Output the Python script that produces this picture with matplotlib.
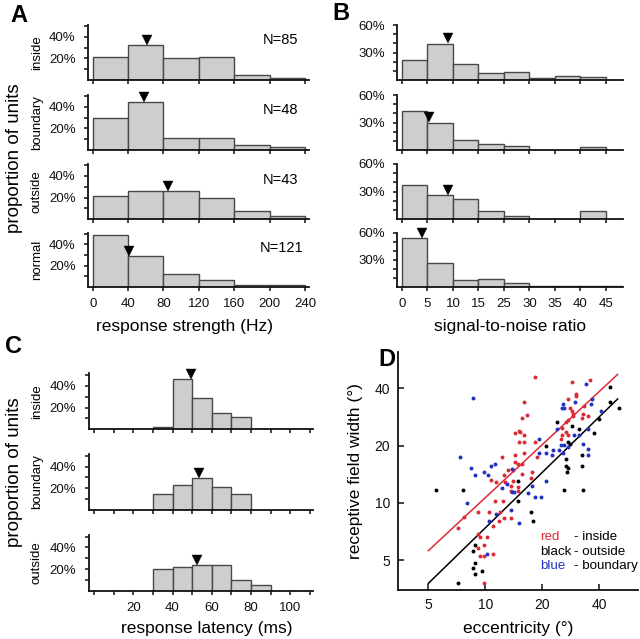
import numpy as np
import matplotlib
matplotlib.use('Agg')
import matplotlib.pyplot as plt
from matplotlib import transforms

plt.rcParams['font.family'] = ['Liberation Sans', 'DejaVu Sans']

# ---------------- data ----------------
groups_A = ['inside', 'boundary', 'outside', 'normal']
N_A = ['N=85', 'N=48', 'N=43', 'N=121']
A_edges = [0, 40, 80, 120, 160, 200, 240]
A_inside = [21.5, 32, 20, 21.5, 5, 1.5]
A_boundary = [30, 44.5, 11.3, 11.3, 5, 3]
A_outside = [21.8, 26, 26, 19.4, 8, 3.4]
A_normal = [49, 29, 12, 6, 1.5, 1.5]
A_means = [61.6, 57.6, 84.8, 41.1]
A_xticks = [0, 40, 80, 120, 160, 200, 240]

B_edges = [0, 5, 10, 15, 20, 25, 30, 35, 40, 45]
B_inside = [21.7, 39.8, 18, 7.2, 8.3, 2.2, 4.3, 3.6, 0]
B_boundary = [42.7, 30, 11.2, 6.5, 4.7, 0, 0, 2.9, 0]
B_outside = [37, 26.7, 21.5, 8.5, 3.7, 0, 0, 8.5, 0]
B_normal = [54.4, 26.3, 7.4, 8.1, 4.4, 0.8, 0.8, 0.8, 0.8]
B_means = [9.1, 5.4, 9.0, 3.9]
B_xticks = [0, 5, 10, 15, 20, 25, 30, 35, 40]
B_xticklabels = ['0', '5', '10', '15', '25', '30', '35', '40', '45']

groups_C = ['inside', 'boundary', 'outside']
C_edges = [30, 40, 50, 60, 70, 80, 90]
C_inside = [1.8, 46.5, 28.6, 14.8, 11, 0]
C_boundary = [14.8, 23, 29, 21, 14.8, 0]
C_outside = [19.7, 21.5, 23.7, 23.7, 9.8, 5.2]
C_means = [49.4, 53.6, 52.4]

red_x = [14.3, 15.1, 15.1, 12.2, 14.3, 14.3, 14.8,
         18.3, 28.8, 35.8, 30.3, 30.3, 27.5, 33.4, 28.0, 28.6, 28.9, 29.1, 16.0,
         15.6, 16.6, 32.9, 34.8, 32.3, 26.6, 27.3, 25.3, 26.6, 25.3, 27.5, 15.3,
         16.0, 18.3, 16.0, 25.0, 16.0, 18.7, 15.6,
         15.6, 17.4, 17.7, 14.8, 14.8,
         13.2, 14.0, 12.5, 12.7, 14.0, 10.7, 11.35, 13.6, 13.6, 11.25, 12.4, 9.1,
         10.45, 12.0, 7.75, 12.5, 13.6, 11.0, 11.8, 7.15, 9.1, 10.15, 9.4, 9.9,
         9.1, 9.4, 9.9, 11.0, 9.9]
red_y = [23.3, 24.0, 21.0, 17.4, 17.9, 16.5, 16.0,
         45.7, 43.2, 44.4, 37.6, 36.6, 35.0, 32.3, 31.4, 30.5, 29.5, 28.6, 33.8,
         28.1, 28.9, 29.5, 28.7, 28.0, 26.5, 27.2, 24.8, 23.5, 22.8, 22.8, 23.5,
         22.8, 21.0, 21.0, 21.6, 18.4, 17.4, 16.0,
         14.1, 13.5, 14.45, 12.1, 11.6,
         14.9, 14.9, 14.0, 12.9, 13.1, 13.2, 12.8, 12.2, 11.5, 10.2, 10.2, 8.9,
         8.9, 8.9, 8.45, 8.35, 8.3, 7.6, 8.0, 7.4, 6.83, 6.6, 6.6, 6.0,
         5.8, 5.27, 5.27, 5.35, 3.8]

black_x = [5.47, 7.6, 8.8, 8.6, 8.8, 8.6, 9.6, 8.8, 7.15, 14.8, 45.6, 45.6,
           50.6, 23.8, 28.8, 31.2, 37.6, 20.9, 27.5, 28.0, 26.6, 32.3, 26.6,
           27.3, 32.3, 26.9, 26.2, 32.9, 14.8, 17.4, 17.8, 40.0]
black_y = [11.65, 11.65, 6.0, 5.6, 4.8, 4.57, 4.4, 4.2, 3.8, 13.0, 40.8, 33.8,
           31.4, 26.7, 25.3, 24.6, 23.3, 20.0, 20.8, 20.3, 17.1, 17.9, 15.7,
           15.2, 15.7, 14.45, 11.65, 11.65, 10.2, 8.9, 8.0, 27.5]

blue_x = [8.6, 7.35, 8.4, 10.7, 11.25, 13.9,
          33.9, 29.7, 36.8, 36.1, 25.3, 26.2, 25.8, 40.8, 23.8, 35.0, 29.5, 31.4,
          19.3, 25.0, 26.2, 27.5, 32.9, 34.8, 34.8, 19.2, 20.9, 22.7, 22.4, 24.6,
          25.8,
          16.8, 18.3, 19.7, 17.7, 20.9, 15.1,
          8.8, 9.9, 10.3, 12.2, 13.0, 13.8, 14.1, 8.0, 13.6, 11.35, 10.45, 10.15]
blue_y = [35.8, 17.4, 15.3, 15.7, 16.0, 15.05,
          42.0, 34.1, 35.0, 33.1, 31.4, 31.4, 33.0, 30.5, 24.6, 24.4, 22.8, 22.8,
          21.6, 20.1, 20.1, 19.7, 20.4, 19.3, 17.9, 18.4, 18.4, 18.9, 17.9, 18.9,
          18.4,
          11.3, 10.7, 10.7, 12.2, 13.0, 7.8,
          14.0, 14.45, 14.0, 12.0, 12.6, 11.35, 11.35, 9.95, 9.15, 8.7, 8.0, 5.35]

fit_x = [5, 50]
fit_red_y = [5.6, 47.4]
fit_black_y = [3.77, 35.2]
D_ticks = [5, 10, 20, 40]

# ---------------- layout helpers ----------------
W, H = 640, 639
fig = plt.figure(figsize=(6.4, 6.39), dpi=100)

def rect(l, t, r, b):
    return [l / W, 1 - b / H, (r - l) / W, (b - t) / H]

def ftext(px, py, s, **kw):
    return fig.text(px / W, 1 - py / H, s, **kw)

BAR_FACE = '#cecece'
BAR_EDGE = '#484848'
TICK_FS = 9.5

def hist_axes(r, edges, heights, mean, xlim, ylim, yticks, ylabels,
              xticks, xlabels, ypad):
    ax = fig.add_axes(r)
    e = np.asarray(edges, float)
    h = np.asarray(heights, float)
    left = e[:-1]
    wid = np.diff(e)
    m = h > 0
    ax.bar(left[m], h[m], width=wid[m], align='edge', color=BAR_FACE,
           edgecolor=BAR_EDGE, linewidth=1.0, zorder=2)
    idx = int(np.clip(np.searchsorted(e, mean, side='right') - 1, 0, len(h) - 1))
    ms = 6.8
    tr = transforms.offset_copy(ax.transData, fig=fig, y=ms / 2 + 0.3, units='points')
    ax.plot([mean], [h[idx]], marker='v', ms=ms, mew=0.3, color='black',
            transform=tr, clip_on=False, zorder=5)
    ax.set_xlim(*xlim)
    ax.set_ylim(*ylim)
    ax.set_yticks(yticks)
    ax.set_yticklabels(ylabels)
    ax.set_xticks(xticks)
    ax.set_xticklabels(xlabels)
    for s in ['top', 'right']:
        ax.spines[s].set_visible(False)
    for s in ['left', 'bottom']:
        ax.spines[s].set_linewidth(1.3)
        ax.spines[s].set_color('#111111')
    ax.tick_params(axis='both', direction='out', length=3.2, width=1.1,
                   labelsize=TICK_FS, colors='#111111')
    ax.tick_params(axis='y', pad=ypad)
    ax.tick_params(axis='x', pad=5)
    ax.patch.set_alpha(0)
    return ax

# ---------------- Panel A ----------------
A_rows = [(25, 80), (95, 150), (164, 219.3), (232.7, 286.7)]
A_data = [A_inside, A_boundary, A_outside, A_normal]
N_pos = [(298, 40), (298, 110), (298, 180), (303, 248)]
for i, (t, b) in enumerate(A_rows):
    last = i == len(A_rows) - 1
    ax = hist_axes(rect(88.3, t, 309, b), A_edges, A_data[i], A_means[i],
                   (-5, 244.5), (0, 51), [10, 20, 30, 40, 50],
                   ['', '20%', '', '40%', ''], A_xticks,
                   [str(v) for v in A_xticks] if last else [''] * len(A_xticks), 6)
    ftext(36.7, (t + b) / 2, groups_A[i], rotation=90, ha='center', va='center', fontsize=9.5)
    ftext(N_pos[i][0], N_pos[i][1], N_A[i], ha='right', va='center', fontsize=10.5)
ftext(185, 327, 'response strength (Hz)', ha='center', va='center', fontsize=12.5)
ftext(15, 158, 'proportion of units', rotation=90, ha='center', va='center', fontsize=13.5)
ftext(19, 16, 'A', ha='center', va='center', fontsize=17, fontweight='bold')

# ---------------- Panel B ----------------
B_data = [B_inside, B_boundary, B_outside, B_normal]
for i, (t, b) in enumerate(A_rows):
    last = i == len(A_rows) - 1
    hist_axes(rect(397.3, t, 623.3, b), B_edges, B_data[i], B_means[i],
              (-0.9, 43.4), (0, 60), [10, 20, 30, 40, 50, 60],
              ['', '', '30%', '', '', '60%'], B_xticks,
              B_xticklabels if last else [''] * len(B_xticks), 5.5)
ftext(510, 327, 'signal-to-noise ratio', ha='center', va='center', fontsize=12.5)
ftext(341, 14, 'B', ha='center', va='center', fontsize=17, fontweight='bold')

# ---------------- Panel C ----------------
C_rows = [(373.3, 429.3), (454, 510), (535, 590.7)]
C_data = [C_inside, C_boundary, C_outside]
C_xticks = list(range(0, 120, 10))
C_xlabels = [str(v) if v in (20, 40, 60, 80, 100) else '' for v in C_xticks]
for i, (t, b) in enumerate(C_rows):
    last = i == len(C_rows) - 1
    hist_axes(rect(89, t, 313.3, b), C_edges, C_data[i], C_means[i],
              (-2.6, 111.8), (0, 51.5), [10, 20, 30, 40, 50],
              ['', '20%', '', '40%', ''], C_xticks,
              C_xlabels if last else [''] * len(C_xticks), 6)
    ftext(36.7, (t + b) / 2, groups_C[i], rotation=90, ha='center', va='center', fontsize=9.5)
ftext(207, 629, 'response latency (ms)', ha='center', va='center', fontsize=12.5)
ftext(15, 472, 'proportion of units', rotation=90, ha='center', va='center', fontsize=13.5)
ftext(13, 347, 'C', ha='center', va='center', fontsize=17, fontweight='bold')

# ---------------- Panel D ----------------
RED = '#dd2a36'
BLUE = '#2432c0'
axd = fig.add_axes(rect(398.3, 351.7, 638.3, 590))
axd.set_xscale('log')
axd.set_yscale('log')
axd.scatter(red_x, red_y, s=8, color=RED, linewidths=0, zorder=3)
axd.scatter(black_x, black_y, s=8, color='black', linewidths=0, zorder=3)
axd.scatter(blue_x, blue_y, s=8, color=BLUE, linewidths=0, zorder=3)
axd.plot(fit_x, fit_red_y, color=RED, lw=1.1, zorder=2)
axd.plot(fit_x, fit_black_y, color='black', lw=1.1, zorder=2)
axd.set_xlim(3.47, 64.3)
axd.set_ylim(3.48, 62.4)
axd.set_xticks(D_ticks)
axd.set_xticklabels([str(v) for v in D_ticks])
axd.set_yticks(D_ticks)
axd.set_yticklabels([str(v) for v in D_ticks])
axd.minorticks_off()
for s in ['top', 'right']:
    axd.spines[s].set_visible(False)
for s in ['left', 'bottom']:
    axd.spines[s].set_linewidth(1.3)
    axd.spines[s].set_color('#111111')
axd.tick_params(axis='both', direction='in', length=4, width=1.1,
                labelsize=TICK_FS + 0.5, pad=6, colors='#111111')
axd.patch.set_alpha(0)
axd.set_xlabel('eccentricity (°)', fontsize=12.5, labelpad=6)
axd.set_ylabel('receptive field width (°)', fontsize=12.5, labelpad=8)

leg_words = [('red', RED, '- inside'), ('black', 'black', '- outside'),
             ('blue', BLUE, '- boundary')]
leg_y = [537.3, 551.7, 566]
for (w, c, rest), yy in zip(leg_words, leg_y):
    ftext(540, yy, w, color=c, ha='left', va='center', fontsize=9.6)
    ftext(574.5, yy, rest, color='black', ha='left', va='center', fontsize=9.6)
ftext(387, 360, 'D', ha='center', va='center', fontsize=17, fontweight='bold')

fig.savefig('out.png', dpi=100)
